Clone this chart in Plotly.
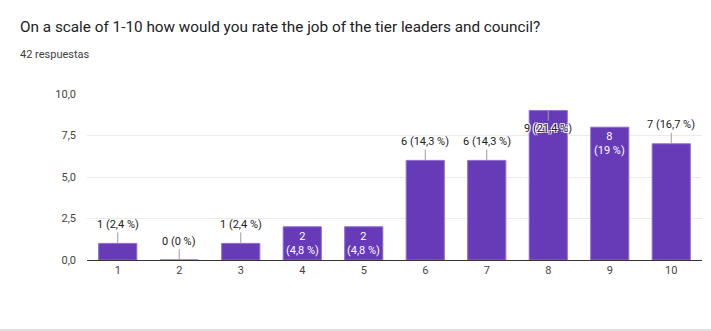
import plotly.graph_objects as go

categories = ["1", "2", "3", "4", "5", "6", "7", "8", "9", "10"]
counts = [1, 0, 1, 2, 2, 6, 6, 9, 8, 7]
percents = ["2,4", "0", "2,4", "4,8", "4,8", "14,3", "14,3", "21,4", "19", "16,7"]
# label style per bar: "out" = above with leader, "in" = inside two lines, "over" = overlapping top
label_mode = ["out", "out", "out", "in", "in", "out", "out", "over", "in", "out"]

title = "On a scale of 1-10 how would you rate the job of the tier leaders and council?"
subtitle = "42 respuestas"

W, H = 711, 331
ML, MR, MT, MB = 87, 9, 94, 71
PW = W - ML - MR
PH = H - MT - MB

def px_x(px):
    return (px - ML) / PW

def px_y(py):
    return (H - MB - py) / PH

bar_color = "#673ab7"
font_family = "Roboto, Arial, sans-serif"

fig = go.Figure()
fig.add_trace(go.Bar(
    x=categories, y=counts,
    marker=dict(color=bar_color, line=dict(color="#8e6cd0", width=1)),
    width=0.62, hoverinfo="skip",
))

annotations = []
for i, (c, v, p, m) in enumerate(zip(categories, counts, percents, label_mode)):
    if m == "out":
        annotations.append(dict(
            x=i, y=v, xref="x", yref="y", text=f"{v} ({p} %)",
            showarrow=True, arrowhead=0, arrowwidth=1, arrowcolor="#9e9e9e",
            ax=0, ay=-19, font=dict(size=11, color="#222222", family=font_family),
        ))
    elif m == "over":
        annotations.append(dict(
            x=i, y=v, xref="x", yref="y", text=f"{v} ({p} %)",
            showarrow=True, arrowhead=0, arrowwidth=1, arrowcolor="#9e9e9e",
            ax=0, ay=18,
            font=dict(size=11, color="#222222", family=font_family,
                      shadow="1px 1px 0px white, -1px -1px 0px white, 1px -1px 0px white, -1px 1px 0px white"),
        ))
    else:
        annotations.append(dict(
            x=i, y=v, xref="x", yref="y", text=f"{v}<br>({p} %)",
            showarrow=False, yanchor="top", yshift=-1,
            font=dict(size=11, color="#ffffff", family=font_family),
        ))

annotations.append(dict(
    x=px_x(18), y=px_y(27), xref="paper", yref="paper", text=title,
    showarrow=False, xanchor="left", yanchor="middle",
    font=dict(size=15.3, color="#202124", family=font_family),
))
annotations.append(dict(
    x=px_x(18), y=px_y(55), xref="paper", yref="paper", text=subtitle,
    showarrow=False, xanchor="left", yanchor="middle",
    font=dict(size=11, color="#3c4043", family=font_family),
))

fig.update_layout(
    width=W, height=H,
    margin=dict(l=ML, r=MR, t=MT, b=MB, pad=0),
    paper_bgcolor="white", plot_bgcolor="white",
    showlegend=False,
    bargap=0.38,
    separators=",.",
    font=dict(family=font_family, color="#444444", size=11),
    annotations=annotations,
    xaxis=dict(
        type="category", range=[-0.5, 9.5],
        showline=True, linecolor="#333333", linewidth=1,
        showgrid=False, ticks="", tickfont=dict(size=11, color="#444444"),
        fixedrange=True,
    ),
    yaxis=dict(
        range=[0, 10], tickvals=[0, 2.5, 5, 7.5, 10], tickformat=".1f",
        showgrid=True, gridcolor="#ebebeb", gridwidth=1,
        zeroline=False, showline=False, ticks="",
        tickfont=dict(size=11, color="#444444"), ticklabelstandoff=10,
        fixedrange=True,
    ),
    shapes=[dict(
        type="line", xref="paper", yref="paper",
        x0=px_x(0), x1=px_x(711), y0=px_y(330), y1=px_y(330),
        line=dict(color="#e0e0e0", width=2),
    )],
)

fig.write_html("out.html")
